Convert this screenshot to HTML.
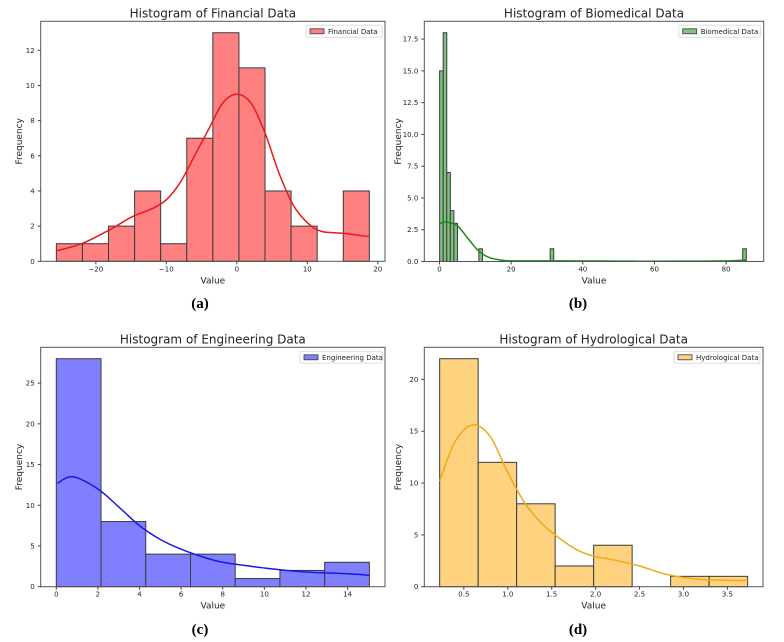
<!DOCTYPE html>
<html><head><meta charset="utf-8">
<style>
html,body{margin:0;padding:0;background:#fff;}
svg{display:block;}
text{font-family:"DejaVu Sans","Liberation Sans",sans-serif;fill:#222;}
.cap{font-family:"Liberation Serif",serif;font-weight:bold;font-size:15px;fill:#000;}
</style></head>
<body>
<svg id="fig" width="784" height="642" viewBox="0 0 784 642" xmlns="http://www.w3.org/2000/svg"></svg>
<script>
// Panel (a) Financial
const aCounts = [1,1,2,4,1,7,13,11,4,2,0,4];
const aKdeX = [-25.6,-22,-18,-15,-12,-10,-8,-6,-4,-2,0,2,4,6,8,10,12,15,18.8];
const aKdeY = [0.6,1.0,1.8,2.5,3.0,3.5,4.5,6.0,7.5,9.0,9.5,9.0,7.3,5.0,3.2,2.2,1.7,1.6,1.4];
const aXTicks = [-20,-10,0,10,20];
const aYTicks = [0,2,4,6,8,10,12];
// Panel (b) Biomedical
const bBinIndex = [0,1,2,3,4,11,31,85];
const bCounts = [15,18,7,4,3,1,1,1];
const bKdeX = [0.05,2,5,8,11,14,17,20,30,40,50,60,70,80,85.6];
const bKdeY = [3.0,3.1,2.8,1.8,0.8,0.3,0.12,0.05,0.05,0.04,0.03,0.02,0.03,0.05,0.1];
const bXTicks = [0,20,40,60,80];
const bYTicks = [0,2.5,5,7.5,10,12.5,15,17.5];
const bYLabels = ["0.0","2.5","5.0","7.5","10.0","12.5","15.0","17.5"];
// Panel (c) Engineering
const cCounts = [28,8,4,4,1,2,3];
const cKdeX = [0.05,0.8,2,3,4,5,6,7,8,10,12,14,15.05];
const cKdeY = [12.7,13.5,12,9.8,7.5,5.8,4.6,3.7,3.0,2.3,1.8,1.6,1.4];
const cXTicks = [0,2,4,6,8,10,12,14];
const cYTicks = [0,5,10,15,20,25];
// Panel (d) Hydrological
const dCounts = [22,12,8,2,4,0,1,1];
const dKdeX = [0.225,0.4,0.6,0.8,1.0,1.2,1.4,1.6,1.8,2.0,2.2,2.5,2.8,3.2,3.73];
const dKdeY = [10.2,14,15.6,14.5,11,8,6,4.6,3.5,2.9,2.6,2.0,1.2,0.7,0.6];
const dXTicks = [0.5,1.0,1.5,2.0,2.5,3.0,3.5];
const dXLabels = ["0.5","1.0","1.5","2.0","2.5","3.0","3.5"];
const dYTicks = [0,5,10,15,20];

const NS='http://www.w3.org/2000/svg';
const svg=document.getElementById('fig');
function mk(tag,attrs,parent){const e=document.createElementNS(NS,tag);for(const k in attrs)e.setAttribute(k,attrs[k]);(parent||svg).appendChild(e);return e;}
function smooth(pts){
  let d='M'+pts[0][0].toFixed(1)+','+pts[0][1].toFixed(1);
  for(let i=0;i<pts.length-1;i++){
    const p0=pts[Math.max(0,i-1)],p1=pts[i],p2=pts[i+1],p3=pts[Math.min(pts.length-1,i+2)];
    const c1x=p1[0]+(p2[0]-p0[0])/6,c1y=p1[1]+(p2[1]-p0[1])/6;
    const c2x=p2[0]-(p3[0]-p1[0])/6,c2y=p2[1]-(p3[1]-p1[1])/6;
    d+=' C'+c1x.toFixed(1)+','+c1y.toFixed(1)+' '+c2x.toFixed(1)+','+c2y.toFixed(1)+' '+p2[0].toFixed(1)+','+p2[1].toFixed(1);
  }
  return d;
}

function panel(o){
  const g=mk('g',{});
  
  
  const L=o.box[0],T=o.box[1],R=o.box[2],B=o.box[3];
  const sx=v=>L+(v-o.xr[0])/(o.xr[1]-o.xr[0])*(R-L);
  const sy=v=>B-(v-o.yr[0])/(o.yr[1]-o.yr[0])*(B-T);
  o.lefts.forEach((x0,i)=>{
    const c=o.counts[i]; if(c<=0) return;
    const x1=x0+o.bw;
    const r=mk('rect',{x:sx(x0),y:sy(c),width:sx(x1)-sx(x0),height:sy(0)-sy(c),fill:o.fill,stroke:'#3a3a3a','stroke-width':1},g);
    
    
  });
  const pts=o.kx.map((x,i)=>[sx(x),sy(o.ky[i])]);
  const p=mk('path',{d:smooth(pts),fill:'none',stroke:o.line,'stroke-width':1.5},g);
  
  
  const f=mk('rect',{x:L,y:T,width:R-L,height:B-T,fill:'none',stroke:'#555','stroke-width':1},g);
  
  
  o.xt.forEach((v,i)=>{
    const x=sx(v);
    mk('line',{x1:x,x2:x,y1:B,y2:B+3,stroke:'#444'},g);
    const t=mk('text',{x:x,y:B+10,'font-size':7,'text-anchor':'middle'},g);
    t.textContent=o.xl?o.xl[i]:String(v).replace('-','\u2212');
    
    
  });
  o.yt.forEach((v,i)=>{
    const y=sy(v);
    mk('line',{x1:L,x2:L-3,y1:y,y2:y,stroke:'#444'},g);
    const t=mk('text',{x:L-6,y:y+2.5,'font-size':7,'text-anchor':'end'},g);
    t.textContent=o.yl?o.yl[i]:String(v);
    
    
  });
  const ti=mk('text',{x:(L+R)/2,y:T-4,'font-size':12,'text-anchor':'middle'},g);
  ti.textContent=o.title;
  
  
  const xl=mk('text',{x:(L+R)/2,y:B+22,'font-size':9,'text-anchor':'middle'},g);
  xl.textContent='Value';
  
  
  const yx=o.ylx, yy=(T+B)/2;
  const yl=mk('text',{x:yx,y:yy,'font-size':9,'text-anchor':'middle',transform:'rotate(-90 '+yx+' '+yy+')'},g);
  yl.textContent='Frequency';
  
  
  const lw=o.legW, lx=R-lw-3, ly=T+4;
  const lg=mk('g',{},g);
  
  
  mk('rect',{x:lx,y:ly,width:lw,height:12,rx:2,fill:'#fff',stroke:'#ddd'},lg);
  mk('rect',{x:lx+4,y:ly+3.5,width:14,height:5,fill:o.fill,stroke:'#3a3a3a','stroke-width':0.8},lg);
  const lt=mk('text',{x:lx+22,y:ly+8.5,'font-size':7},lg);
  lt.textContent=o.label;
  
  
  const cap=mk('text',{x:o.cap[0],y:o.cap[1],'text-anchor':'middle',class:'cap'},g);
  cap.textContent=o.capText;
  
  
}
function lefts(start,w,n){const a=[];for(let i=0;i<n;i++)a.push(start+i*w);return a;}

const aw=(18.8+25.6)/aCounts.length;
panel({key:'financial',box:[40.7,21.3,385,261.3],xr:[-27.82,21.02],yr:[0,13.65],
  lefts:lefts(-25.6,aw,aCounts.length),bw:aw,counts:aCounts,kx:aKdeX,ky:aKdeY,xt:aXTicks,yt:aYTicks,
  fill:'rgb(255,128,128)',line:'#e8191b',title:'Histogram of Financial Data',label:'Financial Data',legW:76,
  ylx:22,cap:[200,308],capText:'(a)'});
panel({key:'biomedical',box:[424.3,21.3,763.7,261.5],xr:[-4.23,90.48],yr:[0,18.9],
  lefts:bBinIndex.map(i=>0.05+i*0.995),bw:0.995,counts:bCounts,kx:bKdeX,ky:bKdeY,xt:bXTicks,yt:bYTicks,yl:bYLabels,
  fill:'rgb(128,192,128)',line:'#1a8a1a',title:'Histogram of Biomedical Data',label:'Biomedical Data',legW:82,
  ylx:401,cap:[578,308],capText:'(b)'});
const cw=15.05/cCounts.length;
panel({key:'engineering',box:[40.7,347.3,385,586.7],xr:[-0.75,15.8],yr:[0,29.4],
  lefts:lefts(0,cw,cCounts.length),bw:cw,counts:cCounts,kx:cKdeX,ky:cKdeY,xt:cXTicks,yt:cYTicks,
  fill:'rgb(128,128,255)',line:'#1a1ae0',title:'Histogram of Engineering Data',label:'Engineering Data',legW:82,
  ylx:22,cap:[200,634],capText:'(c)'});
const dw=(3.73-0.225)/dCounts.length;
panel({key:'hydrological',box:[424.3,347.3,763,586.7],xr:[0.05,3.905],yr:[0,23.1],
  lefts:lefts(0.225,dw,dCounts.length),bw:dw,counts:dCounts,kx:dKdeX,ky:dKdeY,xt:dXTicks,xl:dXLabels,yt:dYTicks,
  fill:'rgb(255,210,128)',line:'#f0a818',title:'Histogram of Hydrological Data',label:'Hydrological Data',legW:86,
  ylx:401,cap:[578,634],capText:'(d)'});
</script>
</body></html>
